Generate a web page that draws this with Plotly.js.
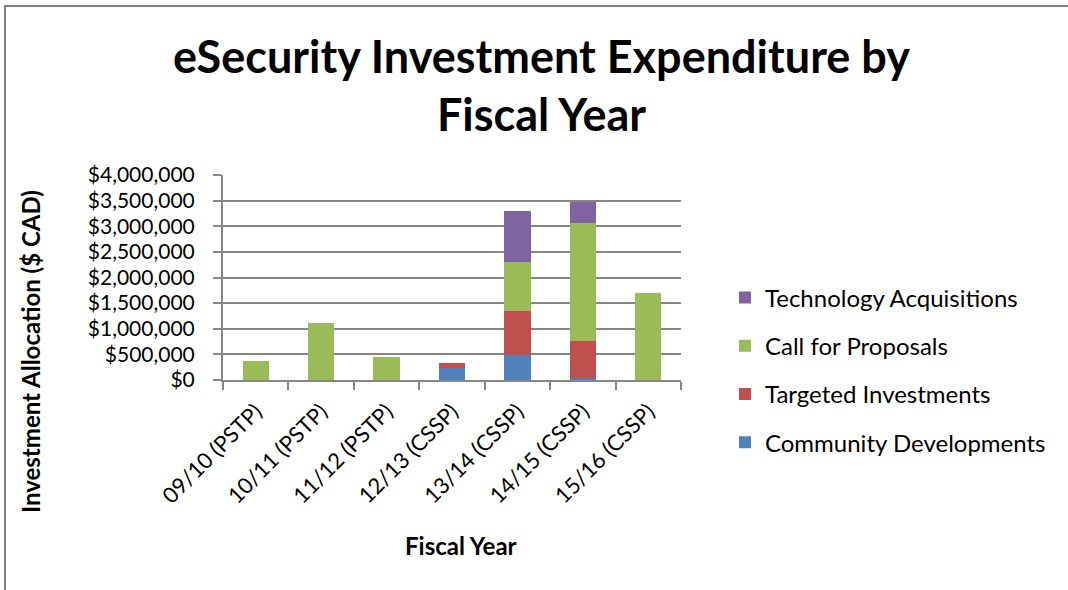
<!DOCTYPE html>
<html>
<head>
<meta charset="utf-8">
<script src="https://cdn.plot.ly/plotly-3.0.1.min.js"></script>
<style>
  html, body { margin: 0; padding: 0; background: #fff; }
  #wrap { position: relative; width: 1068px; height: 590px; overflow: hidden; }
  #chart { position: absolute; left: 0; top: 0; width: 1068px; height: 590px; }
  #frame { position: absolute; left: 4px; top: 5px; width: 1080px; height: 600px;
           border-left: 2px solid #808080; border-top: 2px solid #808080; pointer-events: none; }
</style>
</head>
<body>
<div id="wrap">
  <div id="chart"></div>
  <div id="frame"></div>
</div>
<script>
const categories = ["09/10 (PSTP)", "10/11 (PSTP)", "11/12 (PSTP)", "12/13 (CSSP)", "13/14 (CSSP)", "14/15 (CSSP)", "15/16 (CSSP)"];
const communityDevelopments = [0, 0, 0, 225000, 490000, 30000, 0];
const targetedInvestments   = [0, 0, 0, 105000, 850000, 730000, 0];
const callForProposals      = [370000, 1120000, 440000, 0, 970000, 2310000, 1700000];
const technologyAcquisitions = [0, 0, 0, 0, 990000, 395000, 0];
const seriesNames = ["Community Developments", "Targeted Investments", "Call for Proposals", "Technology Acquisitions"];
const seriesColors = ["#4F81BD", "#C0504D", "#9BBB59", "#8064A2"];
const yTickVals = [0, 500000, 1000000, 1500000, 2000000, 2500000, 3000000, 3500000, 4000000];
const yTickText = ["$0", "$500,000", "$1,000,000", "$1,500,000", "$2,000,000", "$2,500,000", "$3,000,000", "$3,500,000", "$4,000,000"];

const seriesValues = [communityDevelopments, targetedInvestments, callForProposals, technologyAcquisitions];
const FONT = "Lato, 'Open Sans', sans-serif";

const traces = seriesValues.map((vals, i) => ({
  type: "bar",
  name: seriesNames[i],
  x: categories,
  y: vals,
  legendgroup: "g" + i,
  legendrank: 1000 - i,
  marker: { color: seriesColors[i], line: { width: 0 } },
  hoverinfo: "x+y+name"
}));

const layout = {
  width: 1068,
  height: 590,
  paper_bgcolor: "#ffffff",
  plot_bgcolor: "#ffffff",
  barmode: "stack",
  bargap: 0.6,
  margin: { l: 223, r: 387, t: 175, b: 210 },
  font: { family: FONT, color: "#000000", size: 22 },
  title: {
    text: "<b>eSecurity Investment Expenditure by<br>Fiscal Year</b>",
    font: { family: FONT, size: 45, color: "#000000" },
    x: 0.507, xref: "container", xanchor: "center",
    y: 0.877, yref: "container", yanchor: "top"
  },
  xaxis: {
    type: "category",
    tickangle: -45,
    tickson: "boundaries",
    ticks: "outside",
    ticklen: 8,
    tickwidth: 2,
    tickcolor: "#868686",
    showline: true,
    linecolor: "#868686",
    linewidth: 2,
    showgrid: false,
    ticklabelstandoff: 8,
    tickfont: { family: FONT, size: 22, color: "#000000" }
  },
  yaxis: {
    range: [0, 4000000],
    tickvals: yTickVals,
    ticktext: yTickText,
    ticks: "outside",
    ticklen: 8,
    tickwidth: 2,
    tickcolor: "#868686",
    showline: true,
    linecolor: "#868686",
    linewidth: 2,
    showgrid: true,
    gridcolor: "#868686",
    gridwidth: 2,
    zeroline: false,
    ticklabelstandoff: 14,
    tickfont: { family: FONT, size: 21, color: "#000000" }
  },
  legend: {
    x: 1.096, xanchor: "left",
    y: 0.51, yanchor: "top",
    traceorder: "grouped",
    tracegroupgap: 14,
    font: { family: FONT, size: 24, color: "#000000" },
    bgcolor: "rgba(0,0,0,0)"
  },
  annotations: [
    {
      text: "<b>Investment Allocation ($ CAD)</b>",
      xref: "paper", yref: "paper",
      x: (30 - 223) / 458, y: (380 - 352) / 205,
      xanchor: "center", yanchor: "middle",
      textangle: -90, showarrow: false,
      font: { family: FONT, size: 24, color: "#000000" }
    },
    {
      text: "<b>Fiscal Year</b>",
      xref: "paper", yref: "paper",
      x: (461 - 223) / 458, y: (380 - 545) / 205,
      xanchor: "center", yanchor: "middle",
      showarrow: false,
      font: { family: FONT, size: 24, color: "#000000" }
    }
  ]
};

Plotly.newPlot("chart", traces, layout, { displayModeBar: false, staticPlot: true });
</script>
</body>
</html>
